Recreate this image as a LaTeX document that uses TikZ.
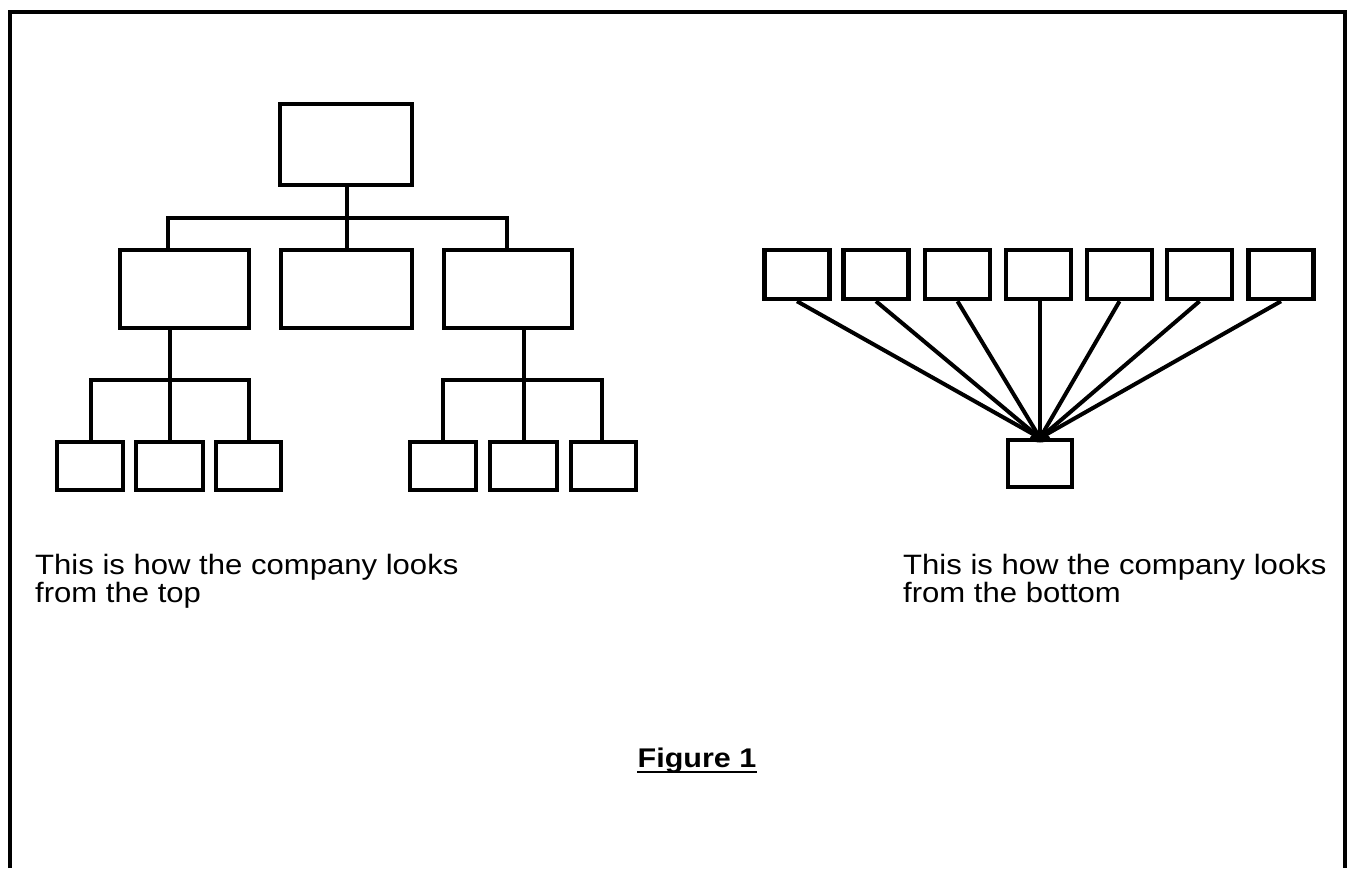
\documentclass[tikz,border=0pt]{standalone}
\usepackage{fontspec}
\setmainfont{Liberation Sans}
\usepackage{graphicx}
\newcommand{\tightlines}{\lineskiplimit=-100pt\relax\lineskip=0pt\relax}
\begin{document}
\begin{tikzpicture}[x=1pt,y=-1pt,
  box/.style={draw, line width=4.5pt, inner sep=0pt, fill=white},
  link/.style={line width=3.5pt},
  fan/.style={line width=4pt},
  caption/.style={inner sep=0pt, anchor=base west, align=left,
    font=\fontsize{28}{25}\selectfont},
]
\useasboundingbox (0,0) rectangle (1356,868);
\fill[white] (0,0) rectangle (1356,868);

% frame, open at the bottom
\draw[line width=4pt] (10,868) -- (10,12) -- (1345,12) -- (1345,868);

% ---- hierarchy seen from the top ----
\node[box, minimum width=132pt, minimum height=81pt] (top) at (346,144.5) {};

\node[box, minimum width=129pt, minimum height=78pt] (m1) at (184.5,289) {};
\node[box, minimum width=131pt, minimum height=78pt] (m2) at (346.5,289) {};
\node[box, minimum width=128pt, minimum height=78pt] (m3) at (508,289) {};

\node[box, minimum width=66pt, minimum height=48pt] (l1) at (90,466) {};
\node[box, minimum width=67pt, minimum height=48pt] (l2) at (169.5,466) {};
\node[box, minimum width=65pt, minimum height=48pt] (l3) at (248.5,466) {};

\node[box, minimum width=66pt, minimum height=48pt] (r1) at (443,466) {};
\node[box, minimum width=67pt, minimum height=48pt] (r2) at (523.5,466) {};
\node[box, minimum width=65pt, minimum height=48pt] (r3) at (603.5,466) {};

% junctions of the bus lines
\coordinate (jA) at (168,218);
\coordinate (jB) at (347,218);
\coordinate (jC) at (507,218);
\coordinate (kA) at (91,380);
\coordinate (kB) at (170,380);
\coordinate (kC) at (249,380);
\coordinate (nA) at (443,380);
\coordinate (nB) at (524,380);
\coordinate (nC) at (602,380);

% top box to middle row
\draw[link] (top.south -| jB) -- (jB);
\draw[link] (m1.north -| jA) -- (jA) -- (jC) -- (m3.north -| jC);
\draw[link] (jB) -- (m2.north -| jB);

% left middle box to its three boxes
\draw[link] (m1.south -| kB) -- (kB);
\draw[link] (l1.north -| kA) -- (kA) -- (kC) -- (l3.north -| kC);
\draw[link] (kB) -- (l2.north -| kB);

% right middle box to its three boxes
\draw[link] (m3.south -| nB) -- (nB);
\draw[link] (r1.north -| nA) -- (nA) -- (nC) -- (r3.north -| nC);
\draw[link] (nB) -- (r2.north -| nB);

% ---- the same company seen from the bottom ----
\foreach \i/\cx in {1/797,2/876,3/957.5,4/1038.5,5/1119.5,6/1199.5,7/1281}
  \node[box, minimum width=65pt, minimum height=49pt] (t\i) at (\cx,274.5) {};
\node[box, minimum width=64pt, minimum height=47pt] (b) at (1040,463.5) {};
\coordinate (hub) at (1040,438);

\foreach \i in {1,2,3,5,6,7}
  \draw[fan] (t\i.south) -- (hub);
\draw[link] (t4.south -| hub) -- (hub);
\fill (hub) ellipse (10pt and 4.5pt);

% ---- captions (anchored on the baseline of their last line) ----
\node[caption] (capL) at (35,602)
  {\tightlines\scalebox{1.11}[1]{This is how the company looks}\\\scalebox{1.11}[1]{from the top}};
\node[caption] (capR) at (903,602)
  {\tightlines\scalebox{1.11}[1]{This is how the company looks}\\\scalebox{1.11}[1]{from the bottom}};

\node[inner sep=0pt, anchor=base, font=\fontsize{27}{30}\selectfont\bfseries]
  (fig) at (697,767) {\scalebox{1.13}[1]{Figure 1}};
\draw[line width=2.5pt] ([yshift=-5pt]fig.base west) -- ([yshift=-5pt]fig.base east);
\end{tikzpicture}
\end{document}
